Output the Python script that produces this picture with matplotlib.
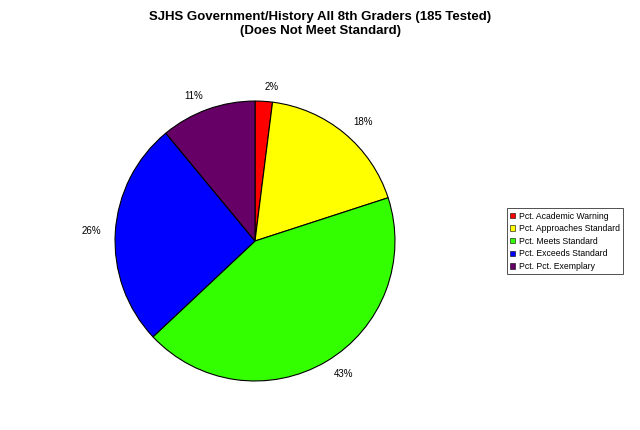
import matplotlib
matplotlib.use("Agg")
import matplotlib.pyplot as plt
from matplotlib.patches import Patch

plt.rcParams['font.family'] = ['Liberation Sans', 'DejaVu Sans']

categories = ["Pct. Academic Warning", "Pct. Approaches Standard", "Pct. Meets Standard",
              "Pct. Exceeds Standard", "Pct. Pct. Exemplary"]
values = [2, 18, 43, 26, 11]
colors = ["#ff0000", "#ffff00", "#33ff00", "#0000ff", "#660066"]

fig = plt.figure(figsize=(6.4, 4.3), dpi=100)
ax = fig.add_axes([0.1797, 0.114, 0.4375, 0.651])

wedges, texts = ax.pie(values, colors=colors, startangle=90, counterclock=False,
                       labels=[f"{v}%" for v in values], labeldistance=1.1,
                       wedgeprops=dict(edgecolor="black", linewidth=0.8),
                       textprops=dict(fontsize=7))
ax.set_xlim(-1, 1)
ax.set_ylim(-1, 1)
ax.set_aspect("equal")
for t in texts:
    t.set_clip_on(False)

fig.suptitle("SJHS Government/History All 8th Graders (185 Tested)\n(Does Not Meet Standard)",
             fontsize=9.5, fontweight="bold", y=0.975, linespacing=1.2)

handles = [Patch(facecolor=c, edgecolor="black", linewidth=0.4) for c in colors]
leg = fig.legend(handles, categories, loc="upper left", bbox_to_anchor=(0.792, 0.516),
                 fontsize=6.2, frameon=True, fancybox=False, edgecolor="black",
                 handlelength=0.6, handleheight=0.6, handletextpad=0.35,
                 labelspacing=0.42, borderpad=0.4, borderaxespad=0)
leg.get_frame().set_linewidth(0.6)

fig.savefig("out.png", dpi=100)
